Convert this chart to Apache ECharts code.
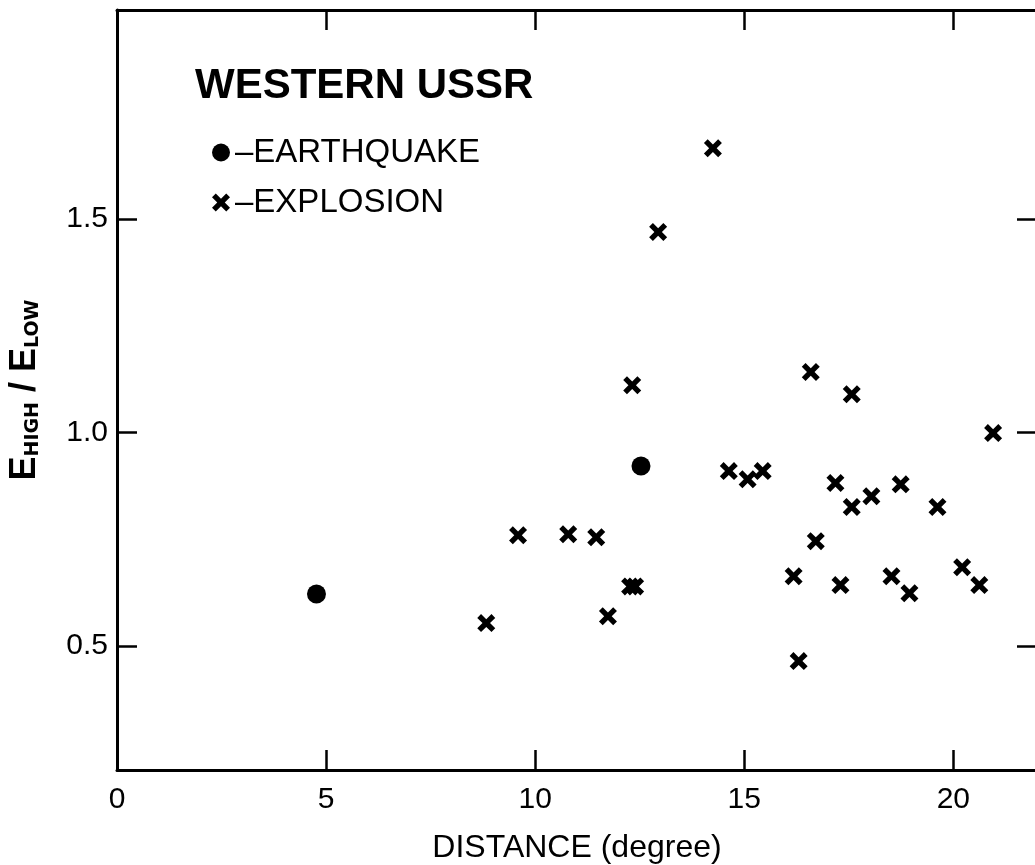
<!DOCTYPE html>
<html>
<head>
<meta charset="utf-8">
<title>Western USSR E_high / E_low</title>
<script src="https://cdn.jsdelivr.net/npm/echarts@6/dist/echarts.min.js"></script>
<style>
  body { margin: 0; background: #fff; }
  #chart { width: 1035px; height: 865px; }
</style>
</head>
<body>
<div id="chart"></div>
<script>
// earthquakes: distance (degree), E high / E low
const quakeDist = [4.77, 12.53];
const quakeRatio = [0.622, 0.922];

// explosions
const blastDist = [
  14.25, 12.94, 12.32, 16.59, 17.57, 20.95,
  14.63, 15.08, 15.44, 17.18, 18.74, 18.04, 17.57, 19.62,
  16.71, 9.59, 10.79, 11.46,
  16.18, 17.30, 18.52, 18.95, 20.21, 20.62,
  16.30, 8.83, 11.74, 12.27, 12.39
];
const blastRatio = [
  1.666, 1.470, 1.111, 1.142, 1.090, 0.999,
  0.910, 0.891, 0.910, 0.882, 0.879, 0.851, 0.826, 0.826,
  0.746, 0.760, 0.762, 0.755,
  0.664, 0.643, 0.664, 0.624, 0.685, 0.643,
  0.465, 0.554, 0.570, 0.640, 0.640
];

const xTicks = [0, 5, 10, 15, 20];
const yTicks = [0.5, 1.0, 1.5];

// thick X marker
const crossPath = 'path://M0,2.1 L2.1,0 L5,2.9 L7.9,0 L10,2.1 L7.1,5 L10,7.9 L7.9,10 L5,7.1 L2.1,10 L0,7.9 L2.9,5 Z';
const font = 'Liberation Sans';

const chart = echarts.init(document.getElementById('chart'));

// onZero off, otherwise the right axis jumps to x = 0
const frameLine = { show: true, onZero: false, lineStyle: { color: '#000', width: 3 } };
const tick = { show: true, inside: true, length: 20, lineStyle: { color: '#000', width: 2.5 } };

chart.setOption({
  animation: false,
  backgroundColor: '#fff',
  title: {
    text: 'WESTERN USSR',
    left: 190,
    top: 60,
    textStyle: { fontFamily: font, fontSize: 42, fontWeight: 'bold', color: '#000' }
  },
  legend: {
    orient: 'vertical',
    left: 207,
    top: 131,
    itemWidth: 18,
    itemHeight: 18,
    itemGap: 17,
    data: [
      { name: 'EARTHQUAKE', icon: 'circle' },
      { name: 'EXPLOSION', icon: crossPath }
    ],
    formatter: (n) => '–' + n,
    textStyle: { fontFamily: font, fontSize: 33, color: '#000' }
  },
  grid: {
    left: 117,
    top: 10,
    width: 920,
    height: 760,
    outerBoundsMode: 'none'
  },
  xAxis: [
    {
      type: 'value',
      min: 0,
      max: 22,
      position: 'bottom',
      name: 'DISTANCE (degree)',
      nameLocation: 'middle',
      nameGap: 62,
      nameTextStyle: { fontFamily: font, fontSize: 32, color: '#000' },
      axisLine: frameLine,
      axisTick: Object.assign({ customValues: xTicks }, tick),
      axisLabel: {
        customValues: xTicks,
        margin: 15,
        fontFamily: font,
        fontSize: 30,
        color: '#000'
      },
      splitLine: { show: false }
    },
    {
      type: 'value',
      min: 0,
      max: 22,
      position: 'top',
      axisLine: frameLine,
      axisTick: Object.assign({ customValues: xTicks.slice(1) }, tick),
      axisLabel: { show: false },
      splitLine: { show: false }
    }
  ],
  yAxis: [
    {
      type: 'value',
      min: 0.21,
      max: 1.99,
      position: 'left',
      name: '{e|E}{s|HIGH}{e| / E}{s|LOW}',
      nameLocation: 'middle',
      nameRotate: 90,
      nameGap: 74,
      nameTextStyle: {
        color: '#000',
        rich: {
          e: { fontFamily: font, fontSize: 36, fontWeight: 'bold', color: '#000', verticalAlign: 'bottom' },
          s: { fontFamily: 'DejaVu Sans', fontSize: 19, fontWeight: 'bold', color: '#000', verticalAlign: 'bottom' }
        }
      },
      axisLine: frameLine,
      axisTick: Object.assign({ customValues: yTicks }, tick),
      axisLabel: {
        customValues: yTicks,
        margin: 9,
        fontFamily: font,
        fontSize: 30,
        color: '#000',
        formatter: (v) => v.toFixed(1)
      },
      splitLine: { show: false }
    },
    {
      type: 'value',
      min: 0.21,
      max: 1.99,
      position: 'right',
      axisLine: frameLine,
      axisTick: Object.assign({ customValues: yTicks }, tick),
      axisLabel: { show: false },
      splitLine: { show: false }
    }
  ],
  series: [
    {
      name: 'EARTHQUAKE',
      type: 'scatter',
      symbol: 'circle',
      symbolSize: 19,
      itemStyle: { color: '#000', opacity: 1 },
      data: quakeDist.map((d, i) => [d, quakeRatio[i]])
    },
    {
      name: 'EXPLOSION',
      type: 'scatter',
      symbol: crossPath,
      symbolSize: 18,
      itemStyle: { color: '#000', opacity: 1 },
      data: blastDist.map((d, i) => [d, blastRatio[i]])
    }
  ]
});
</script>
</body>
</html>
